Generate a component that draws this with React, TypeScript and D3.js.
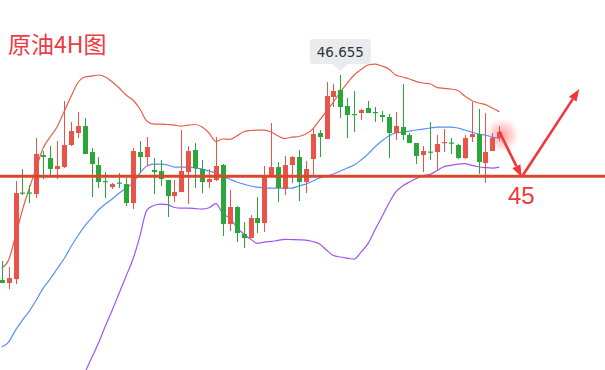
import React from 'react';
import * as d3 from 'd3';

const opens = [43.305,43.256,43.321,44.735,44.735,44.710,45.347,45.298,45.119,45.151,
45.511,45.707,45.821,45.396,45.184,44.922,44.824,44.898,44.873,44.563,
45.396,45.315,45.102,45.086,44.939,44.677,44.743,45.069,45.429,45.119,
44.906,44.939,45.184,44.220,44.498,44.056,43.991,44.318,44.236,45.021,
45.151,44.792,45.184,45.315,44.906,45.282,45.707,45.609,46.295,46.409,
46.148,46.017,46.034,46.115,46.050,46.001,45.968,45.707,45.805,45.674,
45.543,45.347,45.404,45.396,45.543,45.552,45.511,45.298,45.641,45.690,
45.217,45.413,45.625];
const highs = [43.615,43.517,44.922,45.119,44.857,45.625,45.413,45.494,45.576,46.230,
45.887,46.050,45.952,45.462,45.315,45.069,44.890,45.053,44.972,45.462,
45.576,45.641,45.298,45.266,44.939,44.939,45.756,45.494,45.543,45.266,
45.119,45.641,45.200,44.775,44.514,44.253,44.367,44.661,45.168,45.870,
45.233,45.331,45.331,45.429,45.249,45.788,45.756,46.540,46.507,46.655,
46.279,46.393,46.099,46.230,46.132,46.066,46.017,46.050,46.507,45.707,
45.543,45.494,45.887,45.674,45.772,45.625,45.527,45.674,46.213,46.099,
46.034,45.707,45.821];
const lows = [43.256,43.158,43.239,44.694,44.563,44.645,44.955,45.021,44.955,45.135,
45.494,45.625,45.364,44.661,44.808,44.645,44.792,44.808,44.514,44.465,
45.053,45.168,44.710,44.841,44.334,44.579,44.743,44.547,44.808,44.726,
44.808,44.922,44.024,44.105,43.926,43.828,43.991,44.073,44.089,45.021,
44.579,44.694,44.890,44.596,44.726,45.004,45.315,45.609,46.132,45.952,
45.625,45.723,45.919,46.034,45.887,45.887,45.298,45.592,45.592,45.543,
45.200,45.069,45.266,45.086,45.396,45.364,45.282,45.282,45.560,45.037,
44.890,45.413,45.576];
const closes = [43.256,43.338,44.726,44.718,44.718,45.364,45.315,45.119,45.168,45.511,
45.739,45.821,45.364,45.200,44.906,44.906,44.873,44.882,44.563,45.413,
45.315,45.478,45.069,44.955,44.677,44.743,45.086,45.413,45.135,44.906,
44.955,45.168,44.220,44.498,44.073,43.991,44.318,44.236,44.988,45.151,
44.808,45.184,45.315,44.906,45.119,45.690,45.641,46.311,46.393,46.132,
46.001,46.001,46.083,46.034,46.034,45.968,45.707,45.821,45.674,45.543,
45.331,45.413,45.388,45.527,45.560,45.535,45.298,45.625,45.690,45.233,
45.396,45.625,45.723];

const upperBand = [43.501,43.632,44.024,44.449,44.808,45.135,45.462,45.641,45.805,46.050,
46.295,46.524,46.622,46.638,46.655,46.622,46.540,46.442,46.328,46.246,
46.099,45.903,45.854,45.854,45.846,45.837,45.821,45.837,45.846,45.805,
45.707,45.568,45.609,45.604,45.658,45.728,45.748,45.756,45.756,45.723,
45.658,45.617,45.641,45.650,45.690,45.772,45.919,46.066,46.213,46.377,
46.524,46.655,46.744,46.818,46.834,46.802,46.753,46.655,46.622,46.589,
46.548,46.524,46.512,46.450,46.437,46.426,46.401,46.311,46.238,46.197,
46.172,46.115,46.055];
const midBand = [42.210,42.292,42.488,42.651,42.798,42.978,43.174,43.321,43.485,43.648,
43.844,44.024,44.187,44.318,44.449,44.547,44.628,44.726,44.808,44.890,
45.053,45.168,45.200,45.200,45.184,45.151,45.151,45.151,45.135,45.119,
45.086,45.053,45.004,44.955,44.906,44.873,44.841,44.824,44.808,44.808,
44.808,44.808,44.808,44.841,44.873,44.922,44.972,45.004,45.037,45.086,
45.135,45.184,45.266,45.364,45.478,45.576,45.658,45.707,45.723,45.739,
45.756,45.772,45.789,45.805,45.805,45.805,45.789,45.756,45.723,45.690,
45.674,45.641,45.625];
const lowerBand: (number | null)[] = [null,null,null,null,null,null,null,null,null,null,
null,null,41.785,42.030,42.275,42.553,42.815,43.092,43.370,43.648,
44.024,44.449,44.522,44.547,44.538,44.490,44.481,44.481,44.473,44.465,
44.486,44.555,44.391,44.318,44.171,44.057,43.975,43.905,43.926,43.937,
43.954,43.970,43.967,43.962,43.958,43.934,43.893,43.795,43.705,43.681,
43.664,43.648,43.762,43.901,44.122,44.334,44.555,44.743,44.841,44.906,
44.963,45.009,45.032,45.094,45.159,45.179,45.200,45.208,45.179,45.156,
45.143,45.135,45.151];

const title = '原油4H图';
const levelPrice = 45;
const levelLabel = '45';
const peakPrice = 46.655;
const peakLabel = '46.655';
const peakIndex = 49;
// forecast arrows: [fromIndex, fromPrice, toIndex, toPrice]
const arrowSegments = [
  [72.0, 45.73, 75.24, 44.99],
  [75.24, 44.99, 83.58, 46.425],
];

const UP = '#e9544a';
const DOWN = '#2ba63b';

export default function App() {
  const W = 605;
  const H = 370;
  const n = opens.length;
  const x = d3.scaleLinear().domain([0, n - 1]).range([1.7, 499.3]);
  const y = d3.scaleLinear().domain([levelPrice, peakPrice]).range([176.3, 75]);
  const bodyW = 5;

  const bandLine = d3
    .line<number | null>()
    .defined((d) => d != null)
    .x((_, i) => x(i))
    .y((d) => y(d as number))
    .curve(d3.curveMonotoneX);

  const candles = opens.map((o, i) => {
    const c = closes[i];
    const up = c >= o;
    const cx = Math.round(x(i));
    const top = y(Math.max(o, c));
    const bot = y(Math.min(o, c));
    return (
      <g key={i} fill={up ? UP : DOWN} stroke="none">
        <rect x={cx} y={y(highs[i])} width={1} height={Math.max(1, y(lows[i]) - y(highs[i]))} />
        <rect x={cx - 2} y={top} width={bodyW} height={Math.max(1.2, bot - top)} />
      </g>
    );
  });

  const px = x(peakIndex);
  const py = y(peakPrice);

  const arrows = arrowSegments.map(([i0, p0, i1, p1], k) => {
    const x0 = x(i0), y0 = y(p0), x1 = x(i1), y1 = y(p1);
    const ang = Math.atan2(y1 - y0, x1 - x0);
    const L = 12, hw = 4.5;
    const bx = x1 - L * Math.cos(ang), by = y1 - L * Math.sin(ang);
    const nx = -Math.sin(ang), ny = Math.cos(ang);
    const head = `${x1},${y1} ${bx + nx * hw},${by + ny * hw} ${bx - nx * hw},${by - ny * hw}`;
    return (
      <g key={k}>
        <line x1={x0} y1={y0} x2={bx} y2={by} stroke="#f2373b" strokeWidth={2.6} />
        <polygon points={head} fill="#f2373b" />
      </g>
    );
  });

  const lastX = x(n - 1);
  const lastY = y((opens[n - 1] + closes[n - 1]) / 2);

  return (
    <svg width={W} height={H} style={{ position: 'absolute', left: 0, top: 0, background: '#fff' }}>
      <defs>
        <radialGradient id="glow">
          <stop offset="0%" stopColor="#ff4d4d" stopOpacity={0.55} />
          <stop offset="60%" stopColor="#ff6666" stopOpacity={0.25} />
          <stop offset="100%" stopColor="#ff8080" stopOpacity={0} />
        </radialGradient>
      </defs>
      <rect width={W} height={H} fill="#fff" />
      <circle cx={lastX + 3} cy={lastY} r={17} fill="url(#glow)" />
      <path d={bandLine(upperBand) || ''} fill="none" stroke="#e65f48" strokeWidth={1.2} />
      <path d={bandLine(midBand) || ''} fill="none" stroke="#5a8ef8" strokeWidth={1.2} />
      <path d={bandLine(lowerBand) || ''} fill="none" stroke="#a153f4" strokeWidth={1.2} />
      {candles}
      <line x1={0} x2={W} y1={y(levelPrice)} y2={y(levelPrice)} stroke="#d9472c" strokeWidth={3} />
      {arrows}
      <text x={508} y={204} fill="#f2373b" fontSize={24} fontFamily="Liberation Sans, Arial, sans-serif">{levelLabel}</text>
      <text x={8} y={53} fill="#ef3a3f" fontSize={23} fontFamily="Noto Sans CJK SC, sans-serif">{title}</text>
      <g>
        <rect x={px - 30.5} y={py - 36} width={61} height={25} rx={3} fill="#e9ecef" />
        <polygon points={`${px - 8},${py - 11} ${px + 8},${py - 11} ${px},${py - 4}`} fill="#e9ecef" />
        <text x={px} y={py - 18} textAnchor="middle" fill="#333" fontSize={13.5} fontFamily="DejaVu Sans, sans-serif">{peakLabel}</text>
      </g>
    </svg>
  );
}
